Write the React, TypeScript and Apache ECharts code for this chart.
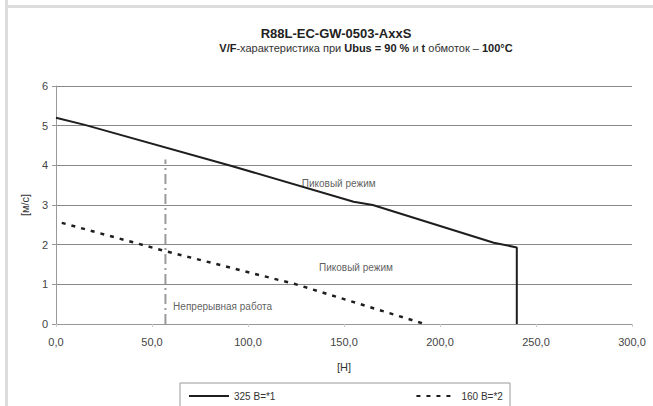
import React, { useEffect, useRef } from "react";
import * as echarts from "echarts";

const seriesNames = ["325 B=*1", "160 B=*2"];
const solid325: [number, number][] = [
  [0, 5.2], [15, 5.02], [91, 3.99], [155, 3.08], [165, 3.0], [228, 2.05], [240, 1.93], [240, 0],
];
const dashed160: [number, number][] = [
  [3, 2.55], [56, 1.85], [125, 1.0], [192, 0],
];
const limitLine: [number, number][] = [
  [57, 0], [57, 4.15],
];
const annotations: { pos: [number, number]; text: string }[] = [
  { pos: [128, 3.55], text: "Пиковый режим" },
  { pos: [137, 1.42], text: "Пиковый режим" },
  { pos: [61, 0.43], text: "Непрерывная работа" },
];
const titleText = "R88L-EC-GW-0503-AxxS";

export default function App() {
  const ref = useRef<HTMLDivElement>(null);
  useEffect(() => {
    if (!ref.current) return;
    const chart = echarts.init(ref.current, null, { renderer: "svg" });
    const font = "'Liberation Sans', Arial, sans-serif";
    chart.setOption({
      animation: false,
      backgroundColor: "#ffffff",
      textStyle: { fontFamily: font },
      grid: { left: 56, right: 21, top: 86, bottom: 82 },
      xAxis: {
        type: "value",
        min: 0,
        max: 300,
        interval: 50,
        name: "[Н]",
        nameLocation: "middle",
        nameGap: 37,
        nameTextStyle: { fontSize: 11, color: "#333", fontFamily: font },
        axisLine: { lineStyle: { color: "#999" } },
        axisTick: { show: true, lineStyle: { color: "#ccc" }, length: 3 },
        axisLabel: {
          fontSize: 11,
          color: "#444",
          margin: 12,
          formatter: (v: number) => v.toFixed(1).replace(".", ","),
        },
        splitLine: { show: false },
      },
      yAxis: {
        type: "value",
        min: 0,
        max: 6,
        interval: 1,
        name: "[м/с]",
        nameLocation: "middle",
        nameGap: 22,
        nameTextStyle: { fontSize: 11, color: "#333", fontFamily: font },
        axisLine: { show: true, lineStyle: { color: "#999" } },
        axisTick: { show: true, lineStyle: { color: "#999" }, length: 4 },
        axisLabel: { fontSize: 11, color: "#444", margin: 8 },
        splitLine: { lineStyle: { color: "#888", width: 1 } },
      },
      legend: {
        data: seriesNames,
        left: 183,
        top: 386,
        itemGap: 140,
        itemWidth: 40,
        itemHeight: 10,
        itemStyle: { opacity: 0, borderWidth: 0 },
        textStyle: { fontSize: 10, color: "#333", fontFamily: font },
      },
      graphic: [
        { type: "rect", shape: { x: 5, y: 0, width: 3, height: 406 }, style: { fill: "#dcdcdc" }, silent: true },
        { type: "rect", shape: { x: 5, y: 5, width: 648, height: 3 }, style: { fill: "#dcdcdc" }, silent: true },
        {
          type: "rect",
          shape: { x: 180, y: 383, width: 330, height: 40 },
          style: { fill: "none", stroke: "#999", lineWidth: 1 },
          silent: true,
        },
        {
          type: "text",
          x: 336,
          y: 33,
          style: {
            text: titleText,
            font: "bold 13px 'Liberation Sans', Arial, sans-serif",
            fill: "#222",
            align: "center",
            verticalAlign: "middle",
          },
        },
        {
          type: "text",
          x: 366,
          y: 48,
          style: {
            text: "{b|V/F}{n|-характеристика при }{b|Ubus = 90 %}{n| и }{b|t}{n| обмоток – }{b|100°C}",
            align: "center",
            verticalAlign: "middle",
            rich: {
              b: { fontFamily: font, fontWeight: "bold", fontSize: 11, fill: "#222" },
              n: { fontFamily: font, fontSize: 11, fill: "#333" },
            },
          },
        },
      ],
      series: [
        {
          name: seriesNames[0],
          type: "line",
          data: solid325,
          symbol: "none",
          lineStyle: { color: "#1e1e1e", width: 2, type: "solid" },
          itemStyle: { color: "#1e1e1e" },
        },
        {
          name: seriesNames[1],
          type: "line",
          data: dashed160,
          symbol: "none",
          lineStyle: { color: "#1e1e1e", width: 2.5, type: [4, 6] },
          itemStyle: { color: "#1e1e1e" },
        },
        {
          name: "limit",
          type: "line",
          data: limitLine,
          symbol: "none",
          lineStyle: { color: "#9a9a9a", width: 2, type: [10, 4, 2, 4] },
        },
        {
          name: "labels",
          type: "scatter",
          symbolSize: 0,
          data: annotations.map((a) => ({ value: a.pos, name: a.text })),
          label: {
            show: true,
            position: "right",
            distance: 0,
            formatter: (p: any) => p.name,
            fontSize: 10,
            color: "#333",
            fontFamily: font,
          },
        },
      ],
    });
    return () => chart.dispose();
  }, []);
  return (
    <div
      ref={ref}
      style={{ position: "fixed", left: 0, top: 0, width: 653, height: 406 }}
    />
  );
}
